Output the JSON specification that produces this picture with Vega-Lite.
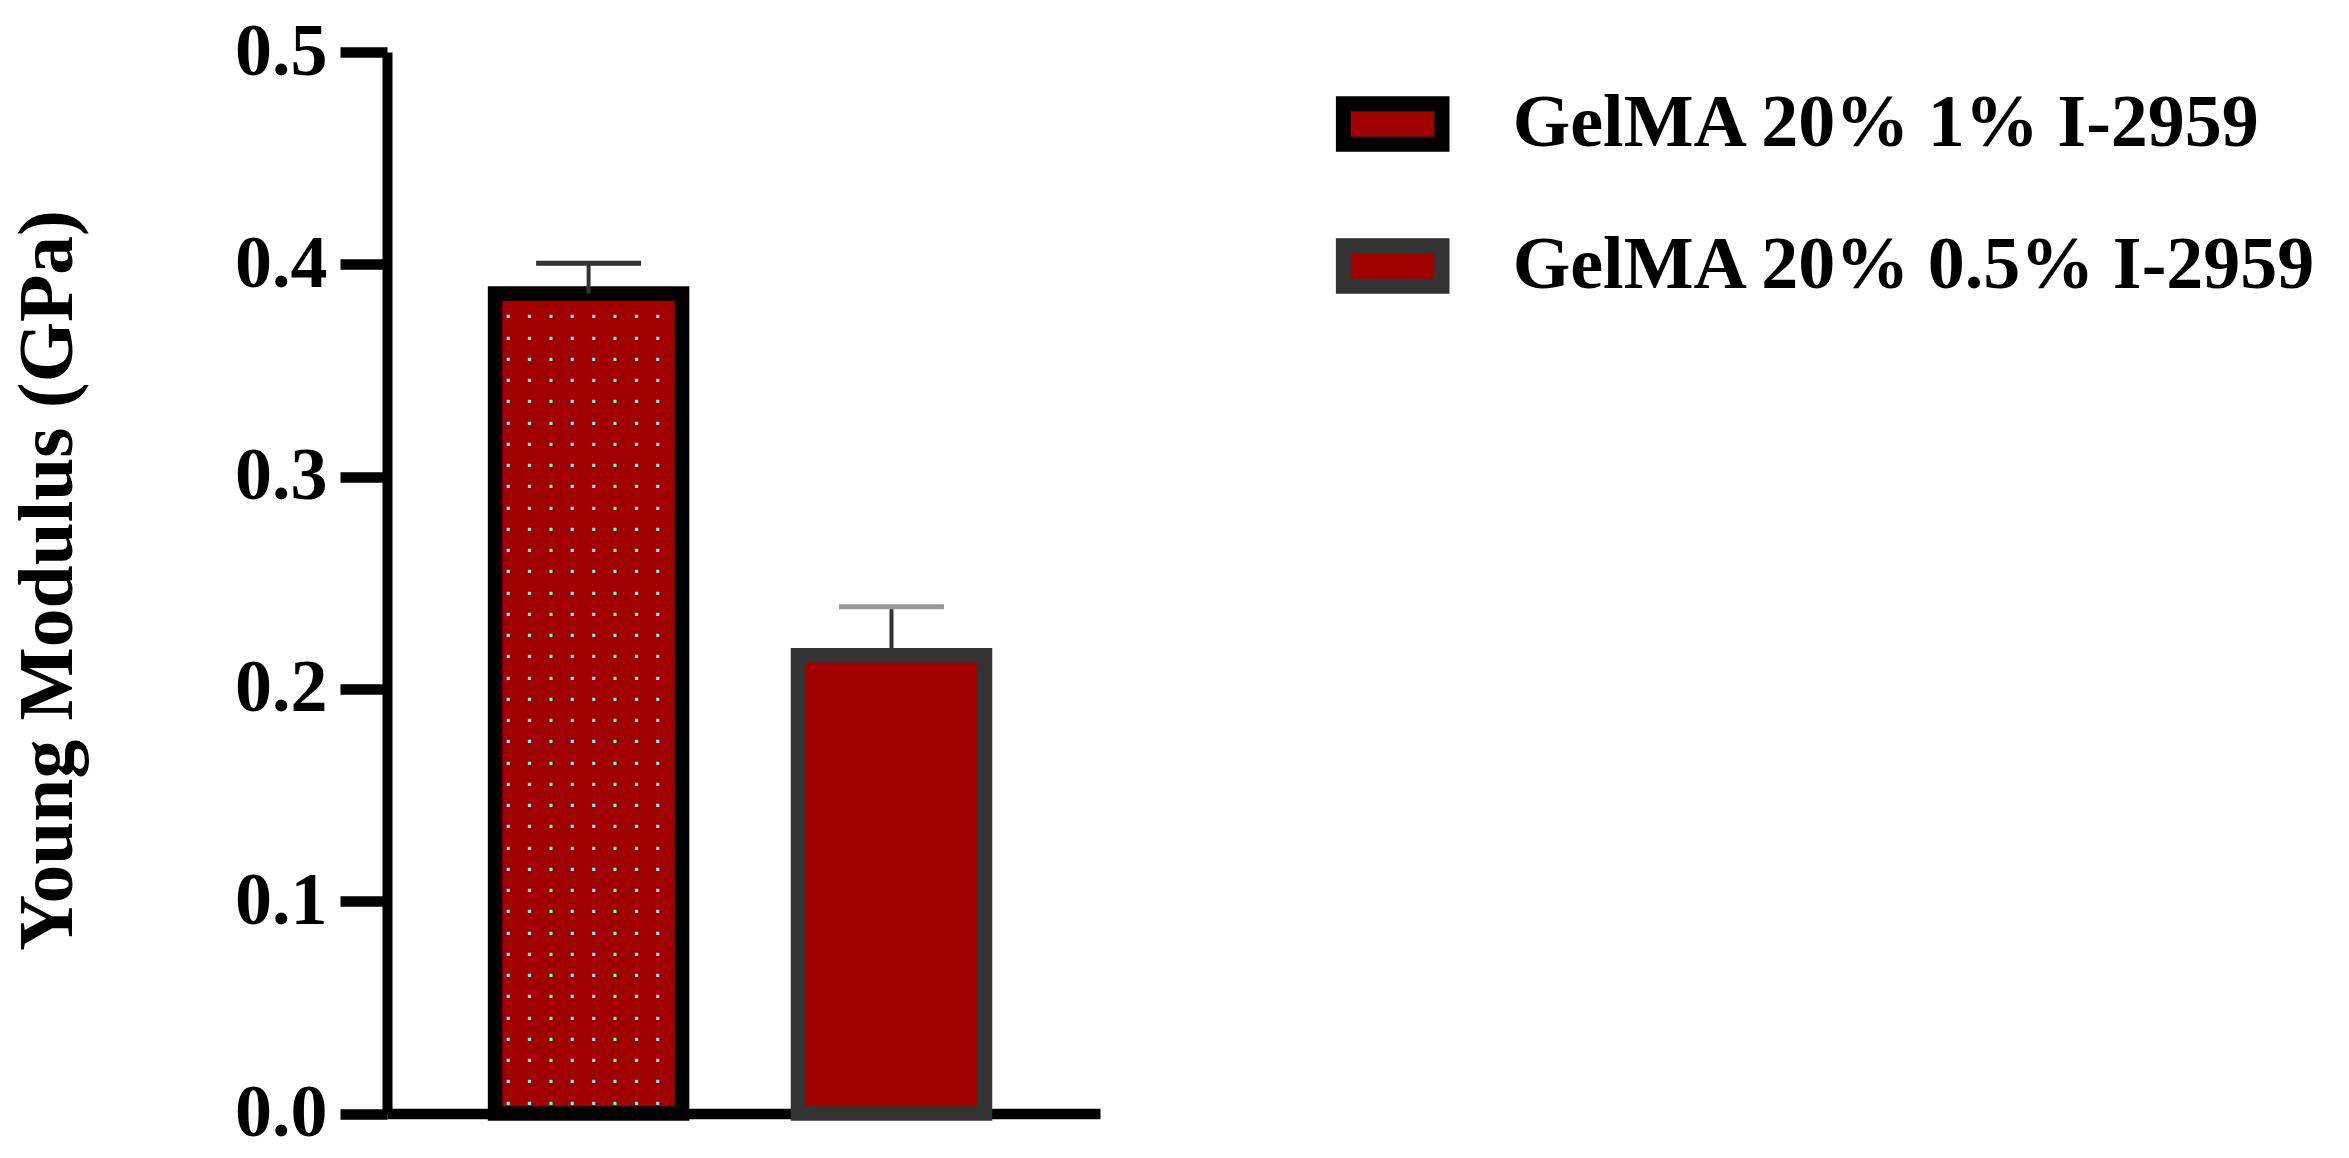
{
  "$schema": "https://vega.github.io/schema/vega-lite/v6.json",
  "autosize": {"type": "none"},
  "padding": {"left": 387, "top": 52, "right": 1249, "bottom": 44.5},
  "width": 713,
  "height": 1061.5,
  "background": "white",
  "config": {"view": {"stroke": null}, "font": "Liberation Serif", "text": {"lineHeight": 21.25}},
  "data": {"values": [
    {"group": "GelMA 20% 1% I-2959", "value": 0.3862, "upper": 0.4005},
    {"group": "GelMA 20% 0.5% I-2959", "value": 0.2159, "upper": 0.2387}
  ]},
  "layer": [
    {
      "mark": {"type": "bar", "strokeWidth": 14.5, "strokeJoin": "miter"},
      "encoding": {
        "x": {"field": "group", "type": "nominal", "sort": null,
          "scale": {"domain": ["GelMA 20% 1% I-2959", "GelMA 20% 0.5% I-2959"], "paddingInner": 0.3826, "paddingOuter": 0.3683, "align": 0.4845},
          "axis": {"title": null, "labels": false, "ticks": false, "domainColor": "black", "domainWidth": 10.5, "grid": false}},
        "y": {"field": "value", "type": "quantitative",
          "scale": {"domain": [0, 0.5], "nice": false},
          "axis": {"title": "Young Modulus (GPa)", "values": [0, 0.1, 0.2, 0.3, 0.4, 0.5], "format": ".1f", "grid": false,
            "domainColor": "black", "domainWidth": 10, "tickColor": "black", "tickWidth": 10.5, "tickSize": 47,
            "labelFont": "Liberation Serif", "labelFontWeight": "bold", "labelFontSize": 74, "labelColor": "black", "labelPadding": 13,
            "titleFont": "Liberation Serif", "titleFontWeight": "bold", "titleFontSize": 77.5, "titleColor": "black",
            "titleAngle": 270, "titleX": -315.3, "titleY": 528, "titleAlign": "center", "titleBaseline": "alphabetic"}},
        "fill": {"field": "group", "type": "nominal",
          "scale": {"domain": ["GelMA 20% 1% I-2959", "GelMA 20% 0.5% I-2959"], "range": ["#a00000", "#a00000"]},
          "legend": {"orient": "none", "legendX": 948.7, "legendY": 15, "title": null, "padding": 0,
            "symbolType": "M-1,-0.413H1V0.413H-1Z", "symbolSize": 9722, "symbolStrokeWidth": 15, "symbolOpacity": 1,
            "labelFont": "Liberation Serif", "labelFontWeight": "bold", "labelFontSize": 74, "labelColor": "black",
            "labelOffset": 63, "rowPadding": 34, "labelLimit": 1200}},
        "stroke": {"field": "group", "type": "nominal",
          "scale": {"domain": ["GelMA 20% 1% I-2959", "GelMA 20% 0.5% I-2959"], "range": ["#000000", "#333333"]},
          "legend": {"orient": "none", "legendX": 948.7, "legendY": 15, "title": null, "padding": 0,
            "symbolType": "M-1,-0.413H1V0.413H-1Z", "symbolSize": 9722, "symbolStrokeWidth": 15, "symbolOpacity": 1,
            "labelFont": "Liberation Serif", "labelFontWeight": "bold", "labelFontSize": 74, "labelColor": "black",
            "labelOffset": 63, "rowPadding": 34, "labelLimit": 1200}}
      }
    },
    {
      "transform": [{"filter": "datum.group === 'GelMA 20% 1% I-2959'"}],
      "mark": {"type": "text", "font": "DejaVu Sans Mono", "fontWeight": "bold", "fontSize": 17.75, "lineHeight": 21.25,
        "align": "left", "baseline": "top", "dx": -85.7, "dy": 15.9, "color": "#55ffff",
        "text": [
          " · · · · · · · ·", "· · · · · · · · ",
          " · · · · · · · ·", "· · · · · · · · ",
          " · · · · · · · ·", "· · · · · · · · ",
          " · · · · · · · ·", "· · · · · · · · ",
          " · · · · · · · ·", "· · · · · · · · ",
          " · · · · · · · ·", "· · · · · · · · ",
          " · · · · · · · ·", "· · · · · · · · ",
          " · · · · · · · ·", "· · · · · · · · ",
          " · · · · · · · ·", "· · · · · · · · ",
          " · · · · · · · ·", "· · · · · · · · ",
          " · · · · · · · ·", "· · · · · · · · ",
          " · · · · · · · ·", "· · · · · · · · ",
          " · · · · · · · ·", "· · · · · · · · ",
          " · · · · · · · ·", "· · · · · · · · ",
          " · · · · · · · ·", "· · · · · · · · ",
          " · · · · · · · ·", "· · · · · · · · ",
          " · · · · · · · ·", "· · · · · · · · ",
          " · · · · · · · ·", "· · · · · · · · ",
          " · · · · · · · ·", "· · · · · · · · "
        ]},
      "encoding": {
        "x": {"field": "group", "type": "nominal", "sort": null},
        "y": {"field": "value", "type": "quantitative"}
      }
    },
    {
      "mark": {"type": "rule", "strokeWidth": 4, "color": "#333333"},
      "encoding": {
        "x": {"field": "group", "type": "nominal", "sort": null},
        "y": {"field": "value", "type": "quantitative"},
        "y2": {"field": "upper"}
      }
    },
    {
      "mark": {"type": "tick", "size": 105, "thickness": 5, "opacity": 1},
      "encoding": {
        "x": {"field": "group", "type": "nominal", "sort": null},
        "y": {"field": "upper", "type": "quantitative"},
        "color": {"field": "group", "type": "nominal",
          "scale": {"domain": ["GelMA 20% 1% I-2959", "GelMA 20% 0.5% I-2959"], "range": ["#333333", "#999999"]},
          "legend": null}
      }
    }
  ]
}
